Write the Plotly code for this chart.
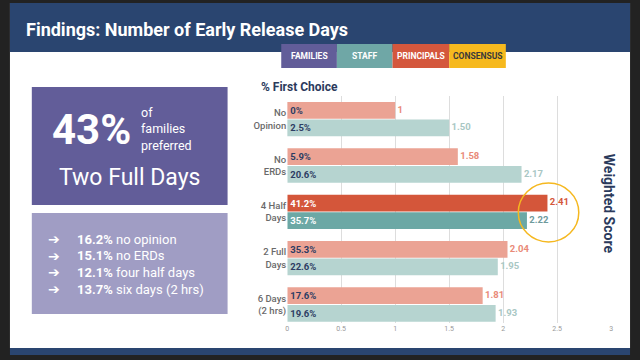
import plotly.graph_objects as go

# ---------------- data ----------------
categories = ["No<br>Opinion", "No<br>ERDs", "4 Half<br>Days", "2 Full<br>Days", "6 Days<br>(2 hrs)"]
principal_score = [1.00, 1.58, 2.41, 2.04, 1.81]
staff_score = [1.50, 2.17, 2.22, 1.95, 1.93]
principal_first = ["0%", "5.9%", "41.2%", "35.3%", "17.6%"]
staff_first = ["2.5%", "20.6%", "35.7%", "22.6%", "19.6%"]
highlight_index = 2
x_ticks = [0, 0.5, 1, 1.5, 2, 2.5, 3]
x_tick_labels = ["0", "0.5", "1", "1.5", "2", "2.5", "3"]

legend_names = ["FAMILIES", "STAFF", "PRINCIPALS", "CONSENSUS"]
legend_colors = ["#625D99", "#6FA7A6", "#D4573D", "#F6B91E"]
legend_text_colors = ["white", "white", "white", "#3A3A3A"]

bullet_pcts = ["16.2%", "15.1%", "12.1%", "13.7%"]
bullet_labels = ["no opinion", "no ERDs", "four half days", "six days (2 hrs)"]

title_text = "Findings: Number of Early Release Days"

# ---------------- helpers ----------------
W, H = 640, 360
def px(x):
    return x / W
def py(y):
    return 1 - y / H

n = len(categories)
idx = list(range(n))

P_LIGHT, P_DARK = "#EBA394", "#D4563A"
S_LIGHT, S_DARK = "#B6D4D0", "#6CA8A5"
NAVY_TXT = "#2D3D63"

p_colors = [P_DARK if i == highlight_index else P_LIGHT for i in idx]
s_colors = [S_DARK if i == highlight_index else S_LIGHT for i in idx]
p_in_txt = ["white" if i == highlight_index else NAVY_TXT for i in idx]
s_in_txt = ["white" if i == highlight_index else NAVY_TXT for i in idx]
p_out_col = ["#D4563A" if i == highlight_index else "#E98A78" for i in idx]
s_out_col = ["#6E9A9C" if i == highlight_index else "#A9C7C4" for i in idx]

fig = go.Figure()

fig.add_trace(go.Bar(
    y=idx, x=principal_score, orientation="h", name="Principals",
    marker=dict(color=p_colors, line=dict(width=0)),
    text=principal_first, textposition="inside", insidetextanchor="start",
    textangle=0, constraintext="none",
    textfont=dict(family="Roboto", size=9.5, color=p_in_txt, weight="bold"),
    hoverinfo="skip",
))
fig.add_trace(go.Bar(
    y=idx, x=staff_score, orientation="h", name="Staff",
    marker=dict(color=s_colors, line=dict(width=0)),
    text=staff_first, textposition="inside", insidetextanchor="start",
    textangle=0, constraintext="none",
    textfont=dict(family="Roboto", size=9.5, color=s_in_txt, weight="bold"),
    hoverinfo="skip",
))

off = 0.19
fig.add_trace(go.Scatter(
    x=principal_score, y=[i - off for i in idx], mode="text",
    text=[f" {v:g}" for v in principal_score], textposition="middle right",
    textfont=dict(family="Roboto", size=9.5, color=p_out_col, weight="bold"),
    cliponaxis=False, hoverinfo="skip", showlegend=False,
))
fig.add_trace(go.Scatter(
    x=staff_score, y=[i + off for i in idx], mode="text",
    text=[f" {v:.2f}" for v in staff_score], textposition="middle right",
    textfont=dict(family="Roboto", size=9.5, color=s_out_col, weight="bold"),
    cliponaxis=False, hoverinfo="skip", showlegend=False,
))

shapes = []
# slide background
shapes.append(dict(type="rect", xref="paper", yref="paper", x0=px(8), x1=px(632), y0=py(348), y1=py(3),
                   fillcolor="white", line=dict(width=0), layer="below"))
# header band
shapes.append(dict(type="rect", xref="paper", yref="paper", x0=px(8), x1=px(632), y0=py(52), y1=py(3),
                   fillcolor="#2A4570", line=dict(width=0), layer="below"))
# bottom band
shapes.append(dict(type="rect", xref="paper", yref="paper", x0=px(8), x1=px(632), y0=py(355), y1=py(348),
                   fillcolor="#2A4570", line=dict(width=0), layer="below"))
# left panels
shapes.append(dict(type="rect", xref="paper", yref="paper", x0=px(30), x1=px(227), y0=py(205), y1=py(87),
                   fillcolor="#625D99", line=dict(width=0), layer="below"))
shapes.append(dict(type="rect", xref="paper", yref="paper", x0=px(30), x1=px(227), y0=py(314), y1=py(213),
                   fillcolor="#A09DC4", line=dict(width=0), layer="below"))

annotations = []
annotations.append(dict(text=title_text, x=px(22), y=py(29), xref="paper", yref="paper",
                        xanchor="left", yanchor="middle", showarrow=False,
                        font=dict(family="Roboto", size=18, color="white", weight="bold")))

# legend boxes
lx = [281, 337, 393, 450, 507]
for i, name in enumerate(legend_names):
    shapes.append(dict(type="rect", xref="paper", yref="paper", x0=px(lx[i]), x1=px(lx[i + 1]),
                       y0=py(68), y1=py(44), fillcolor=legend_colors[i], line=dict(width=0), layer="above"))
    annotations.append(dict(text=name, x=px((lx[i] + lx[i + 1]) / 2), y=py(56), xref="paper", yref="paper",
                            xanchor="center", yanchor="middle", showarrow=False,
                            font=dict(family="Roboto", size=8.5,
                                      color=legend_text_colors[i], weight="bold")))

# big stat
annotations.append(dict(text="<b>43%</b>", x=px(90), y=py(129), xref="paper", yref="paper",
                        xanchor="center", yanchor="middle", showarrow=False,
                        font=dict(family="Roboto", size=42, color="white")))
annotations.append(dict(text="of<br>families<br>preferred", x=px(138), y=py(129), xref="paper", yref="paper",
                        xanchor="left", yanchor="middle", align="left", showarrow=False,
                        font=dict(family="Roboto", size=12.5, color="white")))
annotations.append(dict(text="Two Full Days", x=px(128), y=py(177), xref="paper", yref="paper",
                        xanchor="center", yanchor="middle", showarrow=False,
                        font=dict(family="Roboto", size=23, color="white")))

by = [239, 255.5, 272, 289]
for i in range(len(bullet_pcts)):
    annotations.append(dict(text="<b>➔</b>", x=px(52), y=py(by[i]), xref="paper", yref="paper",
                            xanchor="center", yanchor="middle", showarrow=False,
                            font=dict(family="DejaVu Sans", size=14, color="white")))
    annotations.append(dict(text=f"<b>{bullet_pcts[i]}</b> {bullet_labels[i]}", x=px(73), y=py(by[i]),
                            xref="paper", yref="paper", xanchor="left", yanchor="middle", showarrow=False,
                            font=dict(family="Roboto", size=13, color="white")))

# chart titles
annotations.append(dict(text="<b>% First Choice</b>", x=px(259), y=py(87), xref="paper", yref="paper",
                        xanchor="left", yanchor="middle", showarrow=False,
                        font=dict(family="Roboto", size=12, color="#2B3A5C")))
annotations.append(dict(text="<b>Weighted Score</b>", x=px(611), y=py(204), xref="paper", yref="paper",
                        xanchor="center", yanchor="middle", textangle=90, showarrow=False,
                        font=dict(family="Roboto", size=14, color="#2B3A5C")))

# consensus circle (in data coordinates)
shapes.append(dict(type="circle", xref="x", yref="y", x0=2.14, x1=2.70, y0=1.38, y1=2.65,
                   line=dict(color="#F5B820", width=1.5), fillcolor="rgba(0,0,0,0)", layer="above"))

fig.update_layout(
    width=W, height=H, margin=dict(l=0, r=0, t=0, b=0),
    paper_bgcolor="#222222", plot_bgcolor="rgba(0,0,0,0)",
    barmode="group", bargap=0.24, bargroupgap=0.05,
    showlegend=False,
    shapes=shapes, annotations=annotations,
    xaxis=dict(domain=[px(287), px(613)], range=[0, 3], tickvals=x_ticks, ticktext=x_tick_labels,
               showgrid=True, gridcolor="#DDDDDD", gridwidth=1, zeroline=False, showline=False,
               ticks="", tickfont=dict(family="Roboto", size=7, color="#999999"), fixedrange=True),
    yaxis=dict(domain=[py(323), py(96)], range=[4.4, -0.5], tickvals=idx, ticktext=categories,
               showgrid=False, zeroline=False, showline=False, ticks="",
               tickfont=dict(family="Roboto", size=9.5, color="#6A6A6A", weight=500), fixedrange=True),
)

fig.write_html("out.html", config={"displayModeBar": False},
               post_script="document.body.style.margin='0';document.body.style.overflow='hidden';")
